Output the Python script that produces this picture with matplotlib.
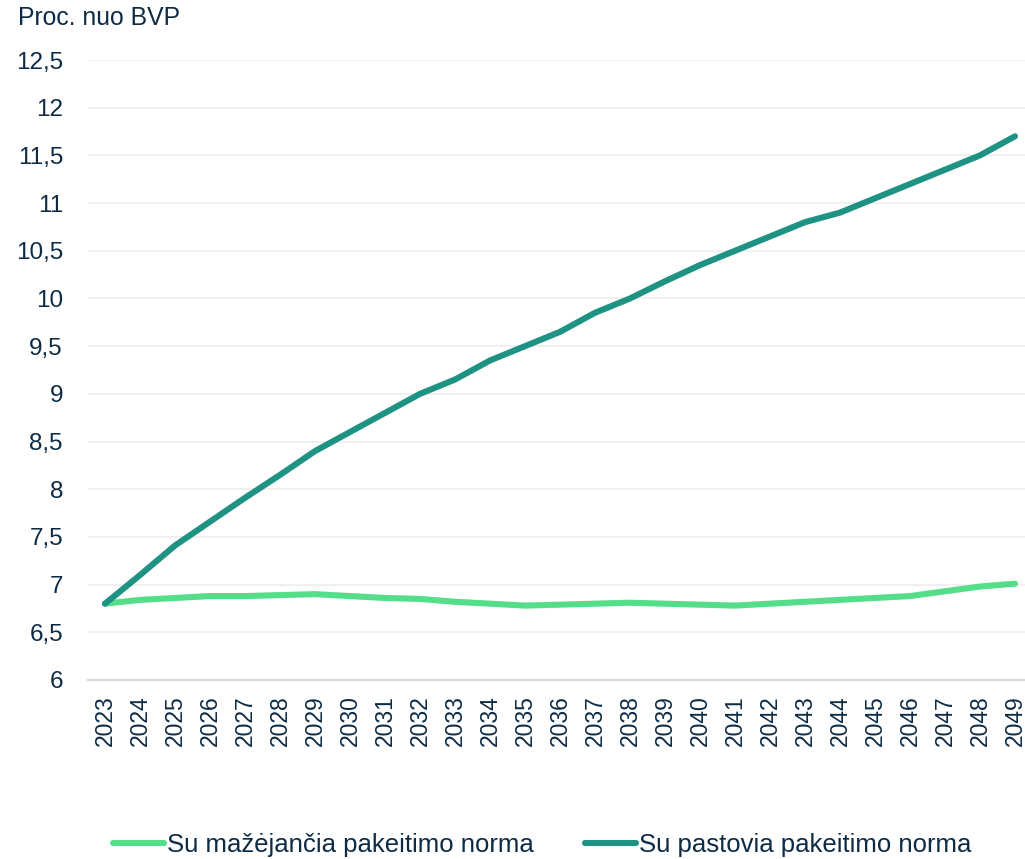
import matplotlib
matplotlib.use("Agg")
import matplotlib.pyplot as plt
from matplotlib.ticker import FuncFormatter

years = list(range(2023, 2050))
decreasing = [6.80, 6.84, 6.86, 6.88, 6.88, 6.89, 6.90, 6.88, 6.86, 6.85,
              6.82, 6.80, 6.78, 6.79, 6.80, 6.81, 6.80, 6.79, 6.78, 6.80,
              6.82, 6.84, 6.86, 6.88, 6.93, 6.98, 7.01]
constant = [6.80, 7.10, 7.41, 7.66, 7.91, 8.15, 8.40, 8.60, 8.80, 9.00,
            9.15, 9.35, 9.50, 9.65, 9.85, 10.00, 10.18, 10.35, 10.50, 10.65,
            10.80, 10.90, 11.05, 11.20, 11.35, 11.50, 11.70]
series_labels = ["Su mažėjančia pakeitimo norma", "Su pastovia pakeitimo norma"]
y_title = "Proc. nuo BVP"
y_ticks = [6, 6.5, 7, 7.5, 8, 8.5, 9, 9.5, 10, 10.5, 11, 11.5, 12, 12.5]

TEXT = "#0D2B45"
LIGHT = "#55DE8A"
DARK = "#1E9283"

plt.rcParams['font.family'] = ['Liberation Sans', 'DejaVu Sans']

W, H = 1025, 859
fig = plt.figure(figsize=(W / 100, H / 100), dpi=100)
left, right, bottom, top = 88, 1025, 680, 60
ax = fig.add_axes([left / W, (H - bottom) / H, (right - left) / W, (bottom - top) / H])

ax.plot(years, decreasing, color=LIGHT, lw=4.4, solid_capstyle='round',
        solid_joinstyle='round', label=series_labels[0], zorder=3)
ax.plot(years, constant, color=DARK, lw=4.4, solid_capstyle='round',
        solid_joinstyle='round', label=series_labels[1], zorder=4)

ax.set_xlim(2023 - 17 / 35, 2049 + 10 / 35)
ax.set_ylim(6, 12.5)
ax.set_yticks(y_ticks)
ax.yaxis.set_major_formatter(FuncFormatter(lambda v, p: (f"{v:g}").replace(".", ",")))
ax.set_xticks(years)
ax.set_xticklabels([str(y) for y in years], rotation=90)

ax.grid(axis='y', color='#EFEFEF', lw=1.3, zorder=0)
ax.set_axisbelow(True)
for s in ['left', 'right', 'top']:
    ax.spines[s].set_visible(False)
ax.spines['bottom'].set_color('#D6D6D6')
ax.spines['bottom'].set_linewidth(1.5)
ax.tick_params(axis='y', length=0, pad=18, labelsize=17.5, labelcolor=TEXT)
ax.tick_params(axis='x', length=0, pad=11, labelsize=16.5, labelcolor=TEXT)

fig.text(18 / W, 1 - 18 / H, y_title, fontsize=17.8, color=TEXT, ha='left', va='center')

leg = fig.legend(loc='center', bbox_to_anchor=(0.529, 1 - 845 / H), ncol=2,
                 frameon=False, fontsize=18.5, handlelength=2.0, handletextpad=0.1,
                 columnspacing=2.0)
for t in leg.get_texts():
    t.set_color(TEXT)

fig.savefig("out.png", dpi=100, facecolor='white')
